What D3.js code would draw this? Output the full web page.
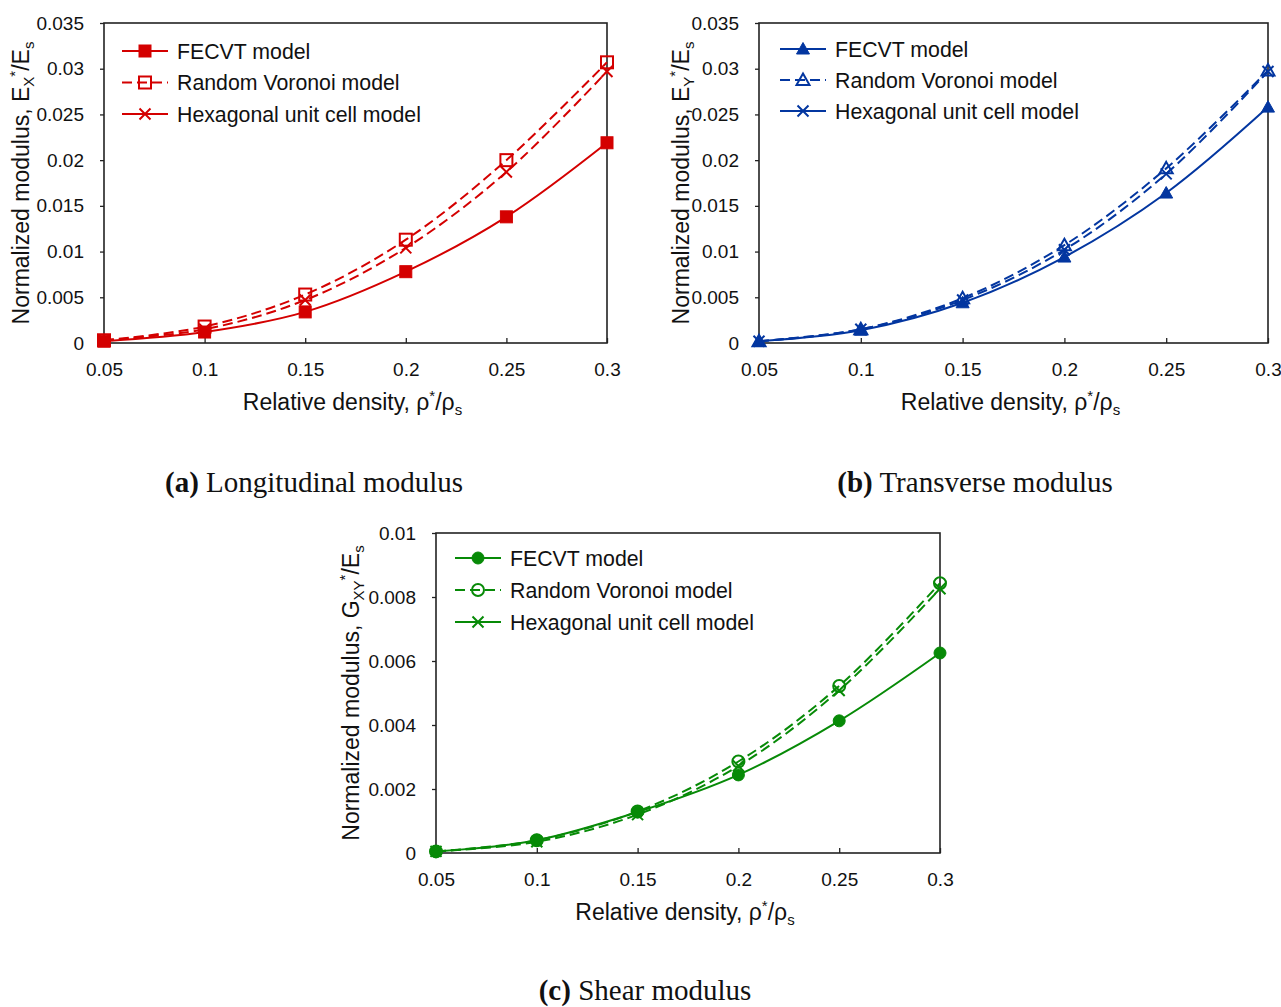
<!DOCTYPE html>
<html>
<head>
<meta charset="utf-8">
<script src="https://cdn.jsdelivr.net/npm/d3@7"></script>
<style>
  body { margin: 0; background: #fff; }
  text { font-family: "Liberation Sans", Arial, sans-serif; }
  .cap { font-family: "Liberation Serif", "Times New Roman", serif; }
</style>
</head>
<body>
<div id="chart"></div>
<script>
// relative density values (x)
var density = [0.05, 0.1, 0.15, 0.2, 0.25, 0.3];

// series names
var seriesNames = ["FECVT model", "Random Voronoi model", "Hexagonal unit cell model"];

// (a) longitudinal modulus Ex*/Es
var exFecvt   = [0.0002, 0.0012, 0.0034, 0.0078, 0.0138, 0.0219];
var exVoronoi = [0.0003, 0.0018, 0.0053, 0.0113, 0.0200, 0.0307];
var exHex     = [0.0003, 0.0015, 0.0047, 0.0104, 0.0187, 0.0297];

// (b) transverse modulus Ey*/Es
var eyFecvt   = [0.0002, 0.0014, 0.0044, 0.0094, 0.0164, 0.0258];
var eyVoronoi = [0.0002, 0.0015, 0.0049, 0.0107, 0.0191, 0.0298];
var eyHex     = [0.0002, 0.0015, 0.0047, 0.0102, 0.0185, 0.0297];

// (c) shear modulus Gxy*/Es
var gFecvt   = [0.00005, 0.0004, 0.00128, 0.00244, 0.00413, 0.00625];
var gVoronoi = [0.00005, 0.0004, 0.0013, 0.00286, 0.00522, 0.00843];
var gHex     = [0.00005, 0.00035, 0.0012, 0.00272, 0.00508, 0.00826];

// tick values
var xTicks = [0.05, 0.1, 0.15, 0.2, 0.25, 0.3];
var eTicks = [0, 0.005, 0.01, 0.015, 0.02, 0.025, 0.03, 0.035];
var gTicks = [0, 0.002, 0.004, 0.006, 0.008, 0.01];

var svg = d3.select("#chart").append("svg")
  .attr("width", 1281)
  .attr("height", 1007);

// panel layout
var panels = [
  { left: 104, right: 607, top: 23, bottom: 343, ymax: 0.035, yTicks: eTicks,
    color: "#d40000", marker: "square", sub: "X", ylabX: 21,
    series: [exFecvt, exVoronoi, exHex],
    legend: { x: 122, y: 51, gap: 31.5 },
    capX: 314, capY: 492, capTag: "(a)", capText: " Longitudinal modulus" },
  { left: 759, right: 1268, top: 23, bottom: 343, ymax: 0.035, yTicks: eTicks,
    color: "#0336a0", marker: "triangle", sub: "Y", ylabX: 681,
    series: [eyFecvt, eyVoronoi, eyHex],
    legend: { x: 780, y: 49, gap: 31 },
    capX: 975, capY: 492, capTag: "(b)", capText: " Transverse modulus" },
  { left: 436, right: 940, top: 533, bottom: 853, ymax: 0.01, yTicks: gTicks,
    color: "#078a07", marker: "circle", sub: "XY", ylabX: 351, shear: true,
    series: [gFecvt, gVoronoi, gHex],
    legend: { x: 455, y: 558, gap: 32 },
    capX: 645, capY: 1000, capTag: "(c)", capText: " Shear modulus" }
];

var fmt = d => String(+d.toFixed(4));

// draw one marker shape at (0,0)
function drawMarker(g, kind, filled, color) {
  if (kind === "x") {
    g.append("path")
      .attr("d", "M-5.5,-5.5L5.5,5.5M-5.5,5.5L5.5,-5.5")
      .attr("stroke", color).attr("stroke-width", 2).attr("fill", "none");
    return;
  }
  var shape;
  if (kind === "square") {
    shape = g.append("rect").attr("x", -6).attr("y", -6).attr("width", 12).attr("height", 12);
  } else if (kind === "triangle") {
    shape = g.append("path").attr("d", "M0,-6.5L6.5,5L-6.5,5Z");
  } else {
    shape = g.append("circle").attr("r", 6);
  }
  if (filled) {
    shape.attr("fill", color).attr("stroke", color).attr("stroke-width", 1);
  } else {
    shape.attr("fill", "none").attr("stroke", color).attr("stroke-width", 2);
  }
}

panels.forEach(function(p) {
  var x = d3.scaleLinear().domain([0.05, 0.3]).range([p.left, p.right]);
  var y = d3.scaleLinear().domain([0, p.ymax]).range([p.bottom, p.top]);

  // y axis
  var yAxis = svg.append("g")
    .attr("transform", `translate(${p.left},0)`)
    .call(d3.axisLeft(y).tickValues(p.yTicks).tickFormat(fmt).tickSizeOuter(0).tickSize(4).tickPadding(16));
  yAxis.select(".domain").remove();
  yAxis.selectAll("text").attr("font-size", 19).attr("fill", "#111").attr("font-family", null);
  yAxis.selectAll("line").attr("stroke", "#222").attr("stroke-width", 1.3);

  // x axis with inward ticks
  var xAxis = svg.append("g")
    .attr("transform", `translate(0,${p.bottom})`)
    .call(d3.axisBottom(x).tickValues(xTicks).tickFormat(fmt).tickSizeOuter(0).tickSizeInner(-5).tickPadding(20));
  xAxis.select(".domain").remove();
  xAxis.selectAll("text").attr("font-size", 19).attr("fill", "#111").attr("font-family", null);
  xAxis.selectAll("line").attr("stroke", "#222").attr("stroke-width", 1.3);

  // plot frame
  svg.append("rect")
    .attr("x", p.left).attr("y", p.top)
    .attr("width", p.right - p.left).attr("height", p.bottom - p.top)
    .attr("fill", "none").attr("stroke", "#222").attr("stroke-width", 1.6);

  var line = d3.line()
    .x((d, i) => x(density[i]))
    .y(d => y(d))
    .curve(d3.curveCatmullRom);

  var styles = [
    { dash: null, marker: p.marker, filled: true },
    { dash: "10,5", marker: p.marker, filled: false },
    { dash: "10,5", marker: "x", filled: false }
  ];

  // lines
  p.series.forEach(function(vals, k) {
    svg.append("path")
      .datum(vals)
      .attr("d", line)
      .attr("fill", "none")
      .attr("stroke", p.color)
      .attr("stroke-width", 2)
      .attr("stroke-dasharray", styles[k].dash);
  });

  // markers
  p.series.forEach(function(vals, k) {
    vals.forEach(function(v, i) {
      var g = svg.append("g").attr("transform", `translate(${x(density[i])},${y(v)})`);
      drawMarker(g, styles[k].marker, styles[k].filled, p.color);
    });
  });

  // legend
  seriesNames.forEach(function(name, k) {
    var ly = p.legend.y + k * p.legend.gap;
    svg.append("line")
      .attr("x1", p.legend.x).attr("x2", p.legend.x + 46)
      .attr("y1", ly).attr("y2", ly)
      .attr("stroke", p.color).attr("stroke-width", 2)
      .attr("stroke-dasharray", k === 1 ? "10,5" : null);
    var g = svg.append("g").attr("transform", `translate(${p.legend.x + 23},${ly})`);
    drawMarker(g, styles[k].marker, styles[k].filled, p.color);
    svg.append("text")
      .attr("x", p.legend.x + 55).attr("y", ly + 7.5)
      .attr("font-size", 21.3).attr("fill", "#111")
      .text(name);
  });

  // x axis title
  var xt = svg.append("text")
    .attr("x", (p.left + p.right) / 2 - 3).attr("y", p.bottom + 67)
    .attr("text-anchor", "middle").attr("font-size", 23).attr("fill", "#111");
  xt.append("tspan").text("Relative density, ρ");
  xt.append("tspan").attr("font-size", 15).attr("dy", -9).text("*");
  xt.append("tspan").attr("dy", 9).text("/ρ");
  xt.append("tspan").attr("font-size", 15).attr("dy", 5).text("s");

  // y axis title
  var yt = svg.append("text")
    .attr("transform", `translate(${p.ylabX + 8},${(p.top + p.bottom) / 2}) rotate(-90)`)
    .attr("text-anchor", "middle").attr("font-size", 23).attr("fill", "#111");
  yt.append("tspan").text("Normalized modulus, " + (p.shear ? "G" : "E"));
  yt.append("tspan").attr("font-size", 15).attr("dy", 5).text(p.sub);
  yt.append("tspan").attr("font-size", 15).attr("dy", -14).text("*");
  yt.append("tspan").attr("dy", 9).text("/E");
  yt.append("tspan").attr("font-size", 15).attr("dy", 5).text("s");

  // caption
  var cap = svg.append("text")
    .attr("class", "cap")
    .attr("x", p.capX).attr("y", p.capY)
    .attr("text-anchor", "middle").attr("font-size", 29).attr("fill", "#111");
  cap.append("tspan").attr("font-weight", "bold").text(p.capTag);
  cap.append("tspan").text(p.capText);
});
</script>
</body>
</html>
